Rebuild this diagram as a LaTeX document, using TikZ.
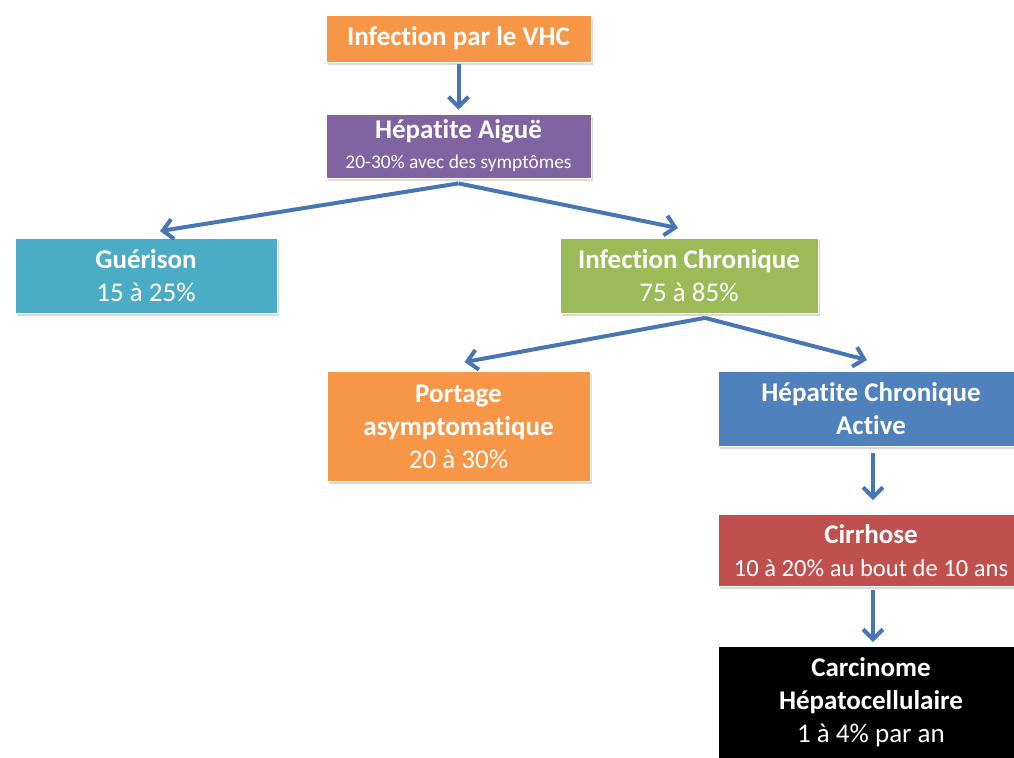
\documentclass[tikz,border=0pt]{standalone}
\usepackage{fontspec}
\setmainfont{Carlito}[Ligatures=NoCommon]
\usetikzlibrary{arrows.meta,shadows}
\definecolor{O}{RGB}{247,150,70}
\definecolor{P}{RGB}{128,100,162}
\definecolor{T}{RGB}{75,172,198}
\definecolor{G}{RGB}{155,187,89}
\definecolor{B}{RGB}{79,129,189}
\definecolor{R}{RGB}{192,80,77}
\definecolor{F}{RGB}{72,118,178}
\tikzstyle{stage} = [
rectangle,
minimum width=132.5pt,
minimum height=37.5pt,
inner sep=0pt,
align=center,
text=white,
draw=white,
font=\fontsize{13.5}{16.5}\selectfont,
drop shadow={shadow xshift=0.8pt, shadow yshift=-1.5pt, opacity=0.3}
]
\tikzstyle{arrow} = [-{Straight Barb[length=5pt,width=10pt]}, line width=2pt, draw=F]

\begin{document}
\begin{tikzpicture}[x=0.5pt, y=-0.5pt, node distance=65pt]
      \useasboundingbox (0,0) rectangle (1014,758);
      \node (vhc) [stage, fill=O, minimum height=23.5pt] at (458.5,38.5) {\textbf{Infection par le VHC}};
      \node (aigue) [stage, fill=P, minimum height=32pt, below of=vhc, yshift=11.25pt] {\textbf{Hépatite Aiguë}\\[-1.5pt]{\fontsize{9.7}{11}\selectfont 20-30\% avec des symptômes}};
      \node (guer) [stage, fill=T, minimum width=131pt, below of=aigue, xshift=-156.25pt] {\textbf{Guérison}\\15 à 25\%};
      \node (chron) [stage, fill=G, minimum width=129pt, below of=aigue, xshift=115.25pt] {\textbf{Infection Chronique}\\75 à 85\%};
      \node (port) [stage, fill=O, minimum width=131.5pt, minimum height=55pt, below of=chron, xshift=-115.25pt, yshift=-10.25pt] {\textbf{Portage}\\\textbf{asymptomatique}\\20 à 30\%};
      \node (hca) [stage, fill=B, minimum width=153pt, below of=chron, xshift=91pt, yshift=-1.5pt] {\textbf{Hépatite Chronique}\\\textbf{Active}};
      \node (cirr) [stage, fill=R, minimum width=153pt, minimum height=36pt, below of=hca, yshift=-5.75pt] {\textbf{Cirrhose}\\{\fontsize{12.3}{15}\selectfont 10 à 20\% au bout de 10 ans}};
      \node (carc) [stage, fill=black, minimum width=153pt, minimum height=56pt, below of=cirr, yshift=-11pt] {\textbf{Carcinome}\\\textbf{Hépatocellulaire}\\1 à 4\% par an};
      \draw [arrow, shorten <=1pt, shorten >=2pt] (vhc) -- (aigue);
      \draw [arrow] ([yshift=-2.5pt]aigue.south) -- ([xshift=7pt,yshift=3.5pt]guer.north);
      \draw [arrow] ([yshift=-2.5pt]aigue.south) -- ([xshift=-5.5pt,yshift=5pt]chron.north);
      \draw [arrow] ([xshift=8pt,yshift=-2pt]chron.south) -- ([xshift=3pt,yshift=4.5pt]port.north);
      \draw [arrow] ([xshift=8pt,yshift=-2pt]chron.south) -- ([xshift=-2pt,yshift=5.5pt]hca.north);
      \draw [arrow, shorten <=3pt, shorten >=7pt] ([xshift=1pt]hca.south) -- ([xshift=1pt]cirr.north);
      \draw [arrow, shorten <=1.5pt, shorten >=2pt] ([xshift=1pt]cirr.south) -- ([xshift=1pt]carc.north);
      \end{tikzpicture}
\end{document}
